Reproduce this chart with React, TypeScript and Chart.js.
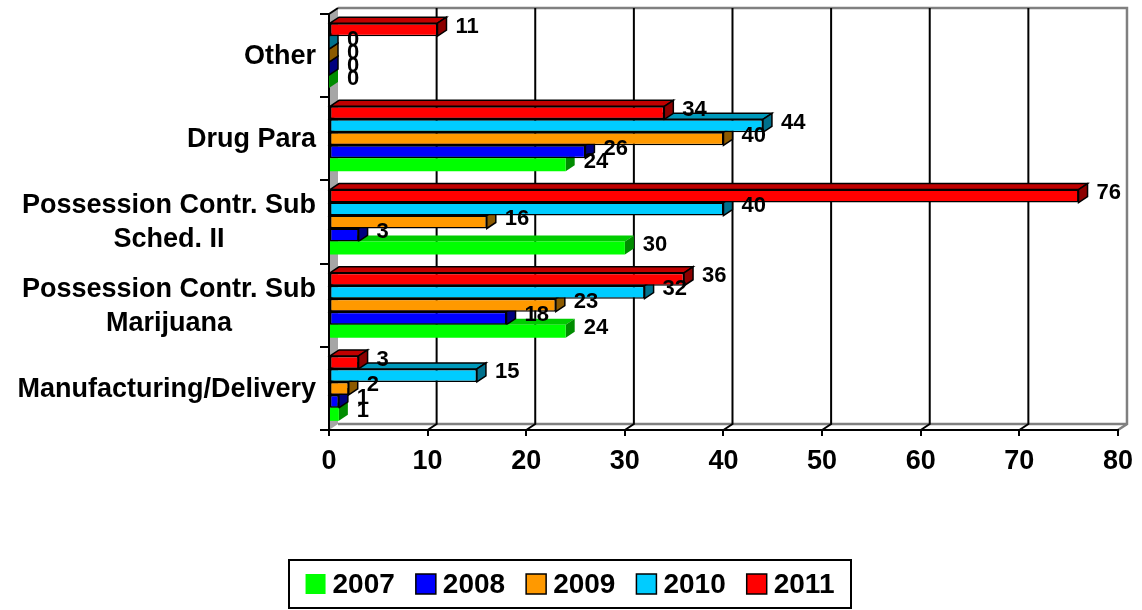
import React, { useEffect, useRef } from 'react';
import { Chart, registerables } from 'chart.js';

Chart.register(...registerables);

// Categories, top to bottom as shown on the chart (each entry = lines of the label)
const categories: string[][] = [
  ['Other'],
  ['Drug Para'],
  ['Possession Contr. Sub', 'Sched. II'],
  ['Possession Contr. Sub', 'Marijuana'],
  ['Manufacturing/Delivery'],
];

const seriesNames = ['2007', '2008', '2009', '2010', '2011'];
const values2007 = [0, 24, 30, 24, 1];
const values2008 = [0, 26, 3, 18, 1];
const values2009 = [0, 40, 16, 23, 2];
const values2010 = [0, 44, 40, 32, 15];
const values2011 = [11, 34, 76, 36, 3];
const xTickMin = 0;
const xTickMax = 80;
const xTickStep = 10;

const frontColors = ['#00FF00', '#0000FF', '#FF9900', '#00CCFF', '#FF0000'];
const topColors = ['#00CC00', '#0000B0', '#CC7A00', '#0099BB', '#C00000'];
const sideColors = ['#008C00', '#000080', '#8C5A00', '#00708C', '#8C0000'];
const hasBorder = [false, true, true, true, true];

const FONT = '"Liberation Sans", Arial, sans-serif';
const DX = 9;
const DY = 6;

const seriesValues = [values2007, values2008, values2009, values2010, values2011];

const threeD = {
  id: 'threeD',
  beforeDraw(chart: any) {
    const ctx = chart.ctx;
    const { left, right, top, bottom } = chart.chartArea;
    const xs = chart.scales.x;
    ctx.save();
    // left wall
    ctx.fillStyle = '#a6a6a6';
    ctx.beginPath();
    ctx.moveTo(left, top);
    ctx.lineTo(left + DX, top - DY);
    ctx.lineTo(left + DX, bottom - DY);
    ctx.lineTo(left, bottom);
    ctx.closePath();
    ctx.fill();
    // back wall edges (gray)
    ctx.strokeStyle = '#808080';
    ctx.lineWidth = 2.5;
    ctx.beginPath();
    ctx.moveTo(left + DX, top - DY);
    ctx.lineTo(right + DX, top - DY);
    ctx.lineTo(right + DX, bottom - DY);
    ctx.lineTo(right, bottom);
    ctx.stroke();
    ctx.beginPath();
    ctx.moveTo(left + DX, bottom - DY);
    ctx.lineTo(right + DX, bottom - DY);
    ctx.stroke();
    // gridlines on back wall and floor
    ctx.strokeStyle = '#000';
    ctx.lineWidth = 2;
    for (let v = xTickMin + xTickStep; v < xTickMax; v += xTickStep) {
      const x = xs.getPixelForValue(v);
      ctx.beginPath();
      ctx.moveTo(x + DX, top - DY);
      ctx.lineTo(x + DX, bottom - DY);
      ctx.lineTo(x, bottom);
      ctx.stroke();
    }
    // top diagonal of wall
    ctx.beginPath();
    ctx.moveTo(left, top);
    ctx.lineTo(left + DX, top - DY);
    ctx.stroke();
    ctx.restore();
  },
  beforeDatasetsDraw(chart: any) {
    const ctx = chart.ctx;
    ctx.save();
    const n = chart.data.datasets.length;
    // draw from bottom series (2007, last dataset) up to top (2011, dataset 0)
    for (let d = n - 1; d >= 0; d--) {
      const meta = chart.getDatasetMeta(d);
      const s = chart.data.datasets[d].seriesIndex;
      meta.data.forEach((bar: any) => {
        const xe = bar.x;
        const base = bar.base;
        const t = bar.y - bar.height / 2;
        const b = bar.y + bar.height / 2;
        ctx.lineWidth = 1.5;
        ctx.strokeStyle = '#000';
        // top face
        ctx.beginPath();
        ctx.moveTo(base, t);
        ctx.lineTo(base + DX, t - DY);
        ctx.lineTo(xe + DX, t - DY);
        ctx.lineTo(xe, t);
        ctx.closePath();
        ctx.fillStyle = topColors[s];
        ctx.fill();
        if (hasBorder[s]) ctx.stroke();
        // side face
        ctx.beginPath();
        ctx.moveTo(xe, t);
        ctx.lineTo(xe + DX, t - DY);
        ctx.lineTo(xe + DX, b - DY);
        ctx.lineTo(xe, b);
        ctx.closePath();
        ctx.fillStyle = sideColors[s];
        ctx.fill();
        if (hasBorder[s]) ctx.stroke();
      });
    }
    ctx.restore();
  },
  afterDatasetsDraw(chart: any) {
    const ctx = chart.ctx;
    ctx.save();
    ctx.fillStyle = '#000';
    ctx.font = `bold 22px ${FONT}`;
    ctx.textAlign = 'left';
    ctx.textBaseline = 'middle';
    chart.data.datasets.forEach((ds: any, d: number) => {
      const meta = chart.getDatasetMeta(d);
      meta.data.forEach((bar: any, i: number) => {
        ctx.fillText(String(ds.data[i]), bar.x + 18, bar.y - 3);
      });
    });
    ctx.restore();
  },
  afterDraw(chart: any) {
    const ctx = chart.ctx;
    const ys = chart.scales.y;
    ctx.save();
    // category labels
    ctx.fillStyle = '#000';
    ctx.font = `bold 27px ${FONT}`;
    ctx.textAlign = 'center';
    ctx.textBaseline = 'middle';
    const rightEdge = chart.chartArea.left - 13;
    categories.forEach((lines, i) => {
      const cy = ys.getPixelForValue(i) + 1;
      const w = Math.max(...lines.map((l) => ctx.measureText(l).width));
      const cx = rightEdge - w / 2;
      lines.forEach((l, j) => {
        ctx.fillText(l, cx, cy + (j - (lines.length - 1) / 2) * 34);
      });
    });
    // legend
    const boxL = 289, boxT = 560, boxW = 562, boxH = 48;
    ctx.strokeStyle = '#000';
    ctx.lineWidth = 2;
    ctx.strokeRect(boxL, boxT, boxW, boxH);
    ctx.font = `bold 28px ${FONT}`;
    ctx.textAlign = 'left';
    const sq = 20, gapSq = 7, gapItem = 21;
    const widths = seriesNames.map((n) => sq + gapSq + ctx.measureText(n).width);
    const total = widths.reduce((a, b) => a + b, 0) + gapItem * (seriesNames.length - 1);
    let x = boxL + (boxW - total) / 2;
    const cy = boxT + boxH / 2;
    seriesNames.forEach((n, i) => {
      ctx.fillStyle = frontColors[i];
      ctx.fillRect(x, cy - sq / 2, sq, sq);
      if (hasBorder[i]) {
        ctx.lineWidth = 1.5;
        ctx.strokeRect(x, cy - sq / 2, sq, sq);
      }
      ctx.fillStyle = '#000';
      ctx.fillText(n, x + sq + gapSq, cy + 1);
      x += widths[i] + gapItem;
    });
    ctx.restore();
  },
};

export default function App() {
  const ref = useRef<HTMLCanvasElement | null>(null);
  useEffect(() => {
    if (!ref.current) return;
    const order = [4, 3, 2, 1, 0]; // 2011 first so 2007 sits at the bottom of each group
    const chart = new Chart(ref.current, {
      type: 'bar',
      data: {
        labels: categories.map((c) => c.join(' ')),
        datasets: order.map((s) => ({
          label: seriesNames[s],
          seriesIndex: s,
          data: seriesValues[s],
          backgroundColor: frontColors[s],
          borderColor: '#000',
          borderWidth: hasBorder[s] ? 1.5 : 0,
          borderSkipped: false,
          categoryPercentage: 0.78,
          barPercentage: 1,
        })) as any,
      },
      options: {
        indexAxis: 'y',
        responsive: false,
        animation: false,
        layout: { padding: { left: 0, right: 20, top: 14, bottom: 0 } },
        plugins: { legend: { display: false }, tooltip: { enabled: false } },
        scales: {
          x: {
            type: 'linear',
            min: xTickMin,
            max: xTickMax,
            ticks: {
              stepSize: xTickStep,
              color: '#000',
              padding: 9,
              font: { family: FONT, size: 27, weight: 'bold' },
            },
            grid: { drawOnChartArea: false, drawTicks: true, tickLength: 6, color: '#000', lineWidth: 2 },
            border: { display: true, color: '#000', width: 2 },
            afterFit: (s: any) => {
              s.height = 180;
            },
          },
          y: {
            type: 'category',
            ticks: { display: false },
            grid: { drawOnChartArea: false, drawTicks: true, tickLength: 9, color: '#000', lineWidth: 2, offset: true },
            border: { display: true, color: '#000', width: 2 },
            afterFit: (s: any) => {
              s.width = 329;
            },
          },
        },
      } as any,
      plugins: [threeD],
    });
    return () => chart.destroy();
  }, []);
  return (
    <div style={{ position: 'fixed', left: 0, top: 0, width: 1142, height: 610, background: '#fff' }}>
      <canvas ref={ref} width={1142} height={610} style={{ display: 'block' }} />
    </div>
  );
}
